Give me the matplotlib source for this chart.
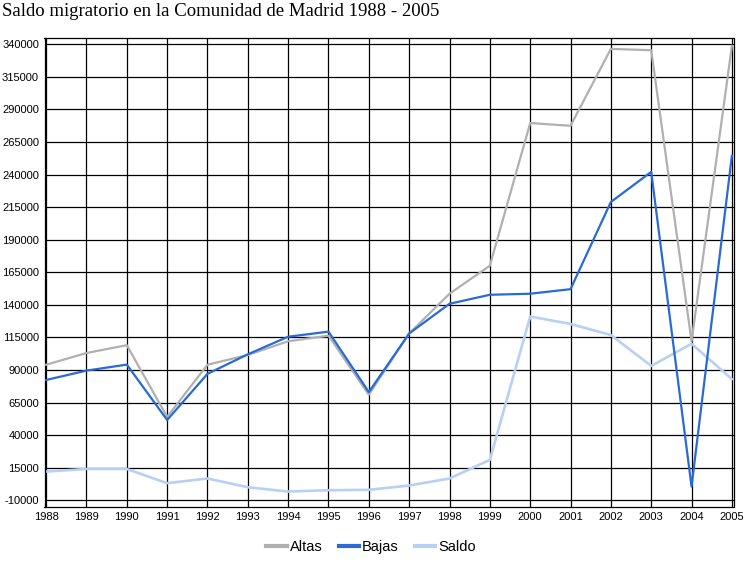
import matplotlib
matplotlib.use("Agg")
import matplotlib.pyplot as plt

years = list(range(1988, 2006))
altas = [94000, 103000, 109000, 54000, 94000, 101500, 112000, 116300, 71000, 118000,
         148500, 170000, 279500, 277400, 336400, 335400, 112000, 338700]
bajas = [82300, 89500, 94100, 51600, 87000, 102000, 115500, 119400, 73000, 118000,
         140800, 147700, 148500, 152000, 218900, 242000, 500, 254400]
saldo = [12000, 14000, 14000, 3100, 6700, 0, -3300, -2300, -2000, 1300,
         6700, 21000, 131000, 125300, 116800, 93100, 110100, 83000]
yticks = list(range(-10000, 340001, 25000))
title = "Saldo migratorio en la Comunidad de Madrid 1988 - 2005"

fig = plt.figure(figsize=(7.48, 5.62), dpi=100)
ax = fig.add_axes([44.5/748, 1-506.5/562, (733.5-44.5)/748, (506.5-37.7)/562])

ax.plot(years, altas, color="#b0b0b0", lw=1.6, label="Altas", zorder=3)
ax.plot(years, bajas, color="#2a6ad4", lw=1.6, label="Bajas", zorder=4)
ax.plot(years, saldo, color="#b8d0f2", lw=1.9, label="Saldo", zorder=2)

ax.set_xlim(1987.96, 2005.04)
ax.set_ylim(-14800, 345000)
ax.set_xticks(years)
ax.set_yticks(yticks)
ax.set_xticklabels([str(y) for y in years], fontfamily="Liberation Sans", fontsize=8)
ax.set_yticklabels([str(v) for v in yticks], fontfamily="Liberation Sans", fontsize=8)
ax.grid(True, color="black", lw=0.9, zorder=1)
ax.set_axisbelow(True)
ax.tick_params(length=0, pad=4)
for s in ax.spines.values():
    s.set_color("black")
    s.set_linewidth(0.9)

fig.text(2/748, 1-12/562, title, fontfamily="Liberation Serif", fontsize=13.5,
         ha="left", va="center")

leg = fig.legend(loc="center", bbox_to_anchor=(371/748, 1-547/562), ncol=3, frameon=False,
                 prop={"family": "Liberation Sans", "size": 10.5}, handlelength=1.4,
                 handletextpad=0.2, columnspacing=1.1)
for l in leg.get_lines():
    l.set_linewidth(3)

fig.savefig("out.png", dpi=100)
